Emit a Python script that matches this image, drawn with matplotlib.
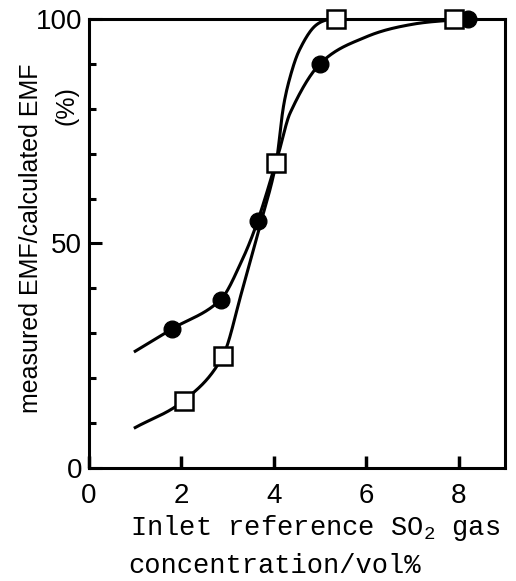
import numpy as np
import matplotlib
matplotlib.use("Agg")
import matplotlib.pyplot as plt
from matplotlib.ticker import MultipleLocator

plt.rcParams['font.family'] = ['Liberation Sans', 'DejaVu Sans']
plt.rcParams['mathtext.fontset'] = 'custom'
plt.rcParams['mathtext.rm'] = 'Liberation Mono'

# measured points (inlet SO2 vol%, measured/calculated EMF %)
circle_x = [1.8, 2.85, 3.65, 5.0, 8.2]
circle_y = [31, 37.5, 55, 90, 100]
square_x = [2.05, 2.9, 4.05, 5.35, 7.9]
square_y = [15, 25, 68, 100, 100]

# hand-drawn trend curves through the points
curve_c_x = [1.0, 1.8, 2.85, 3.3, 3.65, 4.1, 4.35, 5.0, 6.0, 7.0, 8.2]
curve_c_y = [26, 31, 37.5, 46, 55, 70, 79, 90, 96, 98.8, 100]
curve_s_x = [1.0, 2.05, 2.9, 3.3, 3.7, 4.05, 4.2, 4.35, 4.55, 4.9, 5.35, 7.9]
curve_s_y = [9, 15, 25, 39, 54, 68, 80, 87, 93, 98.5, 100, 100]


def smooth(xk, yk, x):
    # cubic hermite with central-difference tangents
    xk = np.asarray(xk, float)
    yk = np.asarray(yk, float)
    h = np.diff(xk)
    m = np.empty_like(yk)
    m[1:-1] = (yk[2:] - yk[:-2]) / (xk[2:] - xk[:-2])
    m[0] = (yk[1] - yk[0]) / h[0]
    m[-1] = (yk[-1] - yk[-2]) / h[-1]
    i = np.clip(np.searchsorted(xk, x) - 1, 0, len(h) - 1)
    t = (x - xk[i]) / h[i]
    h00 = 2 * t**3 - 3 * t**2 + 1
    h10 = t**3 - 2 * t**2 + t
    h01 = -2 * t**3 + 3 * t**2
    h11 = t**3 - t**2
    y = h00 * yk[i] + h10 * h[i] * m[i] + h01 * yk[i + 1] + h11 * h[i] * m[i + 1]
    return np.minimum(y, 100)


fig = plt.figure(figsize=(5.16, 5.81), dpi=100)
ax = fig.add_axes([0.1725, 0.1945, 0.806, 0.773])

xc = np.linspace(curve_c_x[0], curve_c_x[-1], 500)
xs = np.linspace(curve_s_x[0], curve_s_x[-1], 500)
ax.plot(xc, smooth(curve_c_x, curve_c_y, xc), color='black', lw=2.2, zorder=2)
ax.plot(xs, smooth(curve_s_x, curve_s_y, xs), color='black', lw=2.2, zorder=2)

ax.plot(circle_x, circle_y, 'o', color='black', ms=12, zorder=3, clip_on=False)
ax.plot(square_x, square_y, 's', mfc='white', mec='black', mew=1.8, ms=13,
        zorder=3, clip_on=False)

ax.set_xlim(0, 9)
ax.set_ylim(0, 100)
ax.set_xticks([0, 2, 4, 6, 8])
ax.set_yticks([0, 50, 100])
ax.yaxis.set_minor_locator(MultipleLocator(10))

for s in ax.spines.values():
    s.set_linewidth(2.2)

ax.tick_params(axis='x', direction='in', length=9, width=2.5, pad=11, labelsize=20)
ax.tick_params(axis='y', which='major', direction='in', length=9, width=2.2, pad=5,
               labelsize=20)
ax.tick_params(axis='y', which='minor', direction='in', length=5, width=2.2)

fig.text(0.060, 0.590, 'measured EMF/calculated EMF', rotation=90,
         ha='center', va='center', fontsize=18)
fig.text(0.128, 0.819, '(%)', rotation=90, ha='center', va='center', fontsize=18)

fig.text(0.252, 1 - 535 / 581, 'Inlet reference SO$_{2}$ gas',
         family='Liberation Mono', fontsize=19.5, ha='left', va='baseline')
fig.text(0.248, 1 - 573 / 581, 'concentration/vol%',
         family='Liberation Mono', fontsize=19.5, ha='left', va='baseline')

fig.savefig('out.png', dpi=100)
